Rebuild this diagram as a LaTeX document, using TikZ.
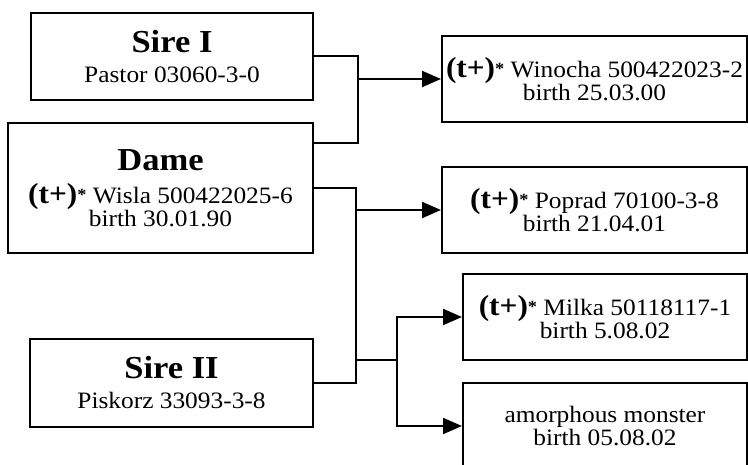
\documentclass[tikz,border=0pt]{standalone}
\usepackage{fontspec}
\setmainfont{Liberation Serif}[FakeStretch=1.08]
\usetikzlibrary{arrows.meta}

\tikzset{
  animal/.style={rectangle, draw, line width=2pt, align=center, inner sep=0pt,
    font=\fontsize{23.5}{23}\selectfont},
  link/.style={line width=2pt},
  arrow/.style={link, -{Triangle[length=19pt,width=16pt]}},
}
\newcommand{\ttl}[1]{{\fontsize{32}{33}\selectfont\bfseries #1}}
\newcommand{\tplus}{{\fontsize{29}{29}\selectfont\bfseries(t+)}{\fontsize{17}{17}\selectfont\bfseries\raisebox{3pt}{*}}\ }

\begin{document}
\begin{tikzpicture}[x=1pt,y=-1pt]
	\clip (0,0) rectangle (748,465);

	\node at (172,56.5) [animal, minimum width=282pt, minimum height=87pt] (sire1) {\ttl{Sire I}\\[7pt] Pastor 03060-3-0};
	\node at (160.5,188) [animal, minimum width=305pt, minimum height=130pt] (dame) {\ttl{Dame}\\[10pt] \tplus Wisla 500422025-6\\ birth 30.01.90};
	\node at (171.5,383) [animal, minimum width=283pt, minimum height=88pt] (sire2) {\ttl{Sire II}\\[7pt] Piskorz 33093-3-8};

	\node at (594.5,79) [animal, minimum width=305pt, minimum height=86pt] (winocha) {\tplus Winocha 500422023-2\\ birth 25.03.00};
	\node at (594.5,210) [animal, minimum width=305pt, minimum height=86pt] (poprad) {\tplus Poprad 70100-3-8\\ birth 21.04.01};
	\node at (605,317) [animal, minimum width=284pt, minimum height=86pt] (milka) {\tplus Milka 50118117-1\\ birth 5.08.02};
	\node at (605,426) [animal, minimum width=284pt, minimum height=86pt] (amorph) {amorphous monster\\ birth 05.08.02};

	\coordinate (j1) at (357,79);
	\coordinate (j2) at (355,210);
	\coordinate (j3) at (355,360);
	\coordinate (fork) at (397,360);

	% first litter
	\draw [link] (sire1.east) -- ++(44,0) |- ([yshift=-21pt]dame.north east);
	\draw [arrow] (j1) -- (winocha.west);

	% second litter
	\draw [link] (dame.east) -- ++(42,0) |- (sire2.east);
	\draw [arrow] (j2) -- (poprad.west);
	\draw [link] (j3) -- (fork);
	\draw [arrow] (fork) |- (milka.west);
	\draw [arrow] (fork) |- (amorph.west);

\end{tikzpicture}
\end{document}
